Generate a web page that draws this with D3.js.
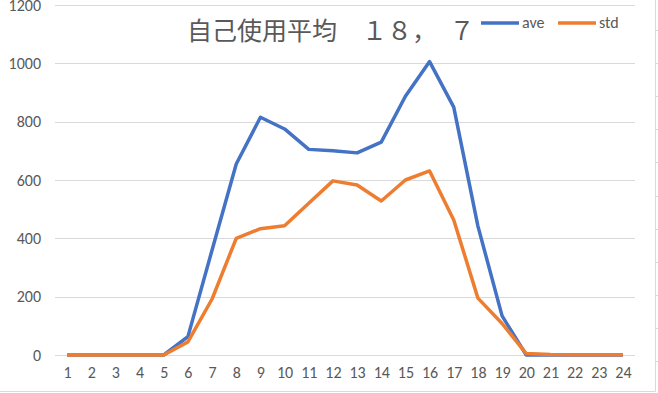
<!DOCTYPE html>
<html>
<head>
<meta charset="utf-8">
<script src="https://cdn.jsdelivr.net/npm/d3@7"></script>
<style>
  body { margin: 0; background: #fff; }
  text { font-family: Calibri, Carlito, "Open Sans", "Noto Sans", sans-serif; }
</style>
</head>
<body>
<div id="chart"></div>
<script>
// data
var hours = d3.range(1, 25)
var ave = [0, 0, 0, 0, 0, 63, 360, 655, 815, 775, 705, 700, 693, 730, 887, 1006, 850, 442, 134, 0, 0, 0, 0, 0]
var std = [0, 0, 0, 0, 0, 45, 192, 400, 433, 443, 520, 597, 583, 528, 600, 631, 463, 195, 108, 5, 2, 1, 1, 1]
var yTicks = [0, 200, 400, 600, 800, 1000, 1200]

var width = 658, height = 393
var svg = d3.select('#chart').append('svg')
  .attr('width', width)
  .attr('height', height)

var x = d3.scalePoint()
  .domain(hours)
  .range([55, 635])
  .padding(0.5)

var y = d3.scaleLinear()
  .domain([0, 1200])
  .range([355, 5])

// frame of the chart area
svg.append('line')
  .attr('x1', 0).attr('x2', 655.5)
  .attr('y1', 391.5).attr('y2', 391.5)
  .attr('stroke', '#d9d9d9')
svg.append('line')
  .attr('x1', 655.5).attr('x2', 655.5)
  .attr('y1', 0).attr('y2', 391.5)
  .attr('stroke', '#d9d9d9')
// sheet row marks right of the frame
svg.selectAll('.row')
  .data(d3.range(0, 12))
  .enter().append('line')
  .attr('x1', 656).attr('x2', 658)
  .attr('y1', function(d){ return Math.round(30 + d * 33.1) + 0.5 })
  .attr('y2', function(d){ return Math.round(30 + d * 33.1) + 0.5 })
  .attr('stroke', '#d9d9d9')

// gridlines
svg.selectAll('.grid')
  .data(yTicks)
  .enter().append('line')
  .attr('x1', 55).attr('x2', 635)
  .attr('y1', function(d){ return Math.round(y(d)) + 0.5 })
  .attr('y2', function(d){ return Math.round(y(d)) + 0.5 })
  .attr('stroke', '#d9d9d9')
  .attr('stroke-width', 1)

// y axis labels
var yAxis = d3.axisLeft(y).tickValues(yTicks).tickFormat(d3.format('d')).tickSize(0).tickPadding(0)
var gy = svg.append('g').attr('transform', 'translate(41,0)').call(yAxis)
gy.select('.domain').remove()
gy.selectAll('text')
  .attr('fill', '#595959')
  .attr('font-size', 16)
  .attr('font-family', null)

// x axis labels
var xAxis = d3.axisBottom(x).tickSize(0).tickPadding(0)
var gx = svg.append('g').attr('transform', 'translate(0,367)').call(xAxis)
gx.select('.domain').remove()
gx.selectAll('text')
  .attr('fill', '#595959')
  .attr('font-size', 16)

gy.attr('font-family', null)
gx.attr('font-family', null)

// lines
var line = d3.line()
  .x(function(d, i){ return x(hours[i]) })
  .y(function(d){ return y(d) })

svg.append('path')
  .datum(ave)
  .attr('d', line)
  .attr('fill', 'none')
  .attr('stroke', '#4472c4')
  .attr('stroke-width', 3.5)
  .attr('stroke-linejoin', 'round')

svg.append('path')
  .datum(std)
  .attr('d', line)
  .attr('fill', 'none')
  .attr('stroke', '#ed7d31')
  .attr('stroke-width', 3.5)
  .attr('stroke-linejoin', 'round')

// title
svg.append('text')
  .text('自己使用平均　１８，　７')
  .attr('x', 187)
  .attr('y', 40)
  .attr('font-size', 25)
  .attr('fill', '#595959')
  .style('font-family', '"Noto Sans CJK JP", sans-serif')

// legend
var legend = [
  {name: 'ave', color: '#4472c4', x: 481},
  {name: 'std', color: '#ed7d31', x: 558}
]
legend.forEach(function(l){
  svg.append('line')
    .attr('x1', l.x).attr('x2', l.x + 38)
    .attr('y1', 23).attr('y2', 23)
    .attr('stroke', l.color)
    .attr('stroke-width', 3.5)
  svg.append('text')
    .text(l.name)
    .attr('x', l.x + 41)
    .attr('y', 28)
    .attr('font-size', 16)
    .attr('fill', '#595959')
})
</script>
</body>
</html>
